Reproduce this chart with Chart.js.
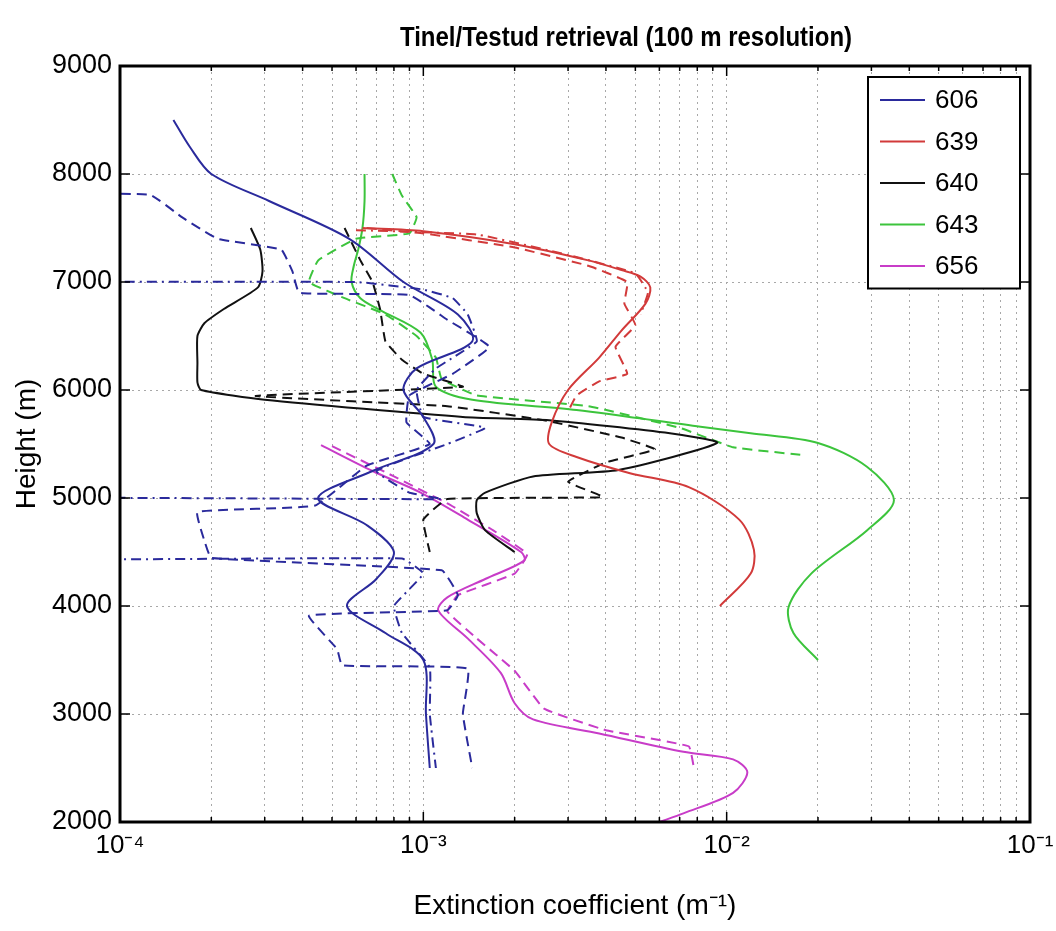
<!DOCTYPE html>
<html>
<head>
<meta charset="utf-8">
<title>Tinel/Testud retrieval</title>
<script src="https://cdn.jsdelivr.net/npm/chart.js@4.4.1/dist/chart.umd.min.js"></script>
<style>
    html, body { margin: 0; padding: 0; background: #fff; }
    #wrap { width: 1056px; height: 931px; position: relative; }
</style>
</head>
<body>
<div id="wrap"><canvas id="extChart"></canvas></div>
<script>
const chartTitle = 'Tinel/Testud retrieval (100 m resolution)';

// Axis ticks
const decadeTicks = [1e-4, 1e-3, 1e-2, 1e-1];
const decadeLabels = ['10\u207B\u2074', '10\u207B\u00B3', '10\u207B\u00B2', '10\u207B\u00B9'];
const heightTicks = [2000, 3000, 4000, 5000, 6000, 7000, 8000, 9000];

// Legend entries (one per case)
const cases = ['606', '639', '640', '643', '656'];
const caseColors = ['#2a2a9c', '#d23a3a', '#111111', '#3cc43c', '#c83cc8'];

// 606
const h606 = [8500, 8250, 8000, 7750, 7400, 7000, 6700, 6450, 6200, 6000, 5750, 5500, 5250, 5000, 4750, 4500, 4250, 4000, 3750, 3500, 3000, 2500];
const e606 = [1.5e-4, 1.7e-4, 2.0e-4, 3.1e-4, 5.7e-4, 8.6e-4, 1.3e-3, 1.45e-3, 9.5e-4, 8.6e-4, 1.0e-3, 1.08e-3, 6.8e-4, 4.5e-4, 6.5e-4, 8.0e-4, 7.0e-4, 5.6e-4, 7.5e-4, 1.0e-3, 1.02e-3, 1.05e-3];
const h606d = [7810, 7810, 7600, 7400, 7300, 7100, 6900, 6880, 6650, 6400, 6150, 5950, 5700, 5500, 5300, 4930, 4870, 4600, 4445, 4330, 4100, 3960, 3910, 3600, 3450, 3420, 3000, 2500];
const e606d = [1e-5, 1.25e-4, 1.6e-4, 2.1e-4, 3.4e-4, 3.7e-4, 3.9e-4, 9.0e-4, 1.2e-3, 1.65e-3, 1.25e-3, 9.0e-4, 8.8e-4, 1.05e-3, 6.5e-4, 4.4e-4, 1.8e-4, 1.9e-4, 2.0e-4, 1.15e-3, 1.3e-3, 1.2e-3, 4.2e-4, 5.2e-4, 5.4e-4, 1.4e-3, 1.35e-3, 1.45e-3];
const h606c = [7000, 7000, 6930, 6850, 6700, 6450, 6200, 6000, 5750, 5650, 5500, 5250, 5050, 4990, 4980, 4450, 4440, 4300, 4000, 3750, 3430, 3000, 2500];
const e606c = [1e-5, 6e-4, 1.0e-3, 1.25e-3, 1.4e-3, 1.5e-3, 1.1e-3, 9.5e-4, 1.0e-3, 1.6e-3, 1.2e-3, 7e-4, 9e-4, 1.15e-3, 1e-5, 1e-5, 8.5e-4, 1.0e-3, 8.0e-4, 8.5e-4, 1.05e-3, 1.05e-3, 1.1e-3];

// 639
const h639 = [7500, 7470, 7350, 7200, 7110, 7050, 6950, 6800, 6550, 6300, 6000, 5700, 5500, 5380, 5230, 5100, 4800, 4520, 4300, 4000];
const e639 = [6.3e-4, 1.0e-3, 2.0e-3, 3.5e-3, 4.5e-3, 5.2e-3, 5.6e-3, 5.4e-3, 4.5e-3, 3.8e-3, 3.0e-3, 2.65e-3, 2.6e-3, 3.2e-3, 4.8e-3, 7.5e-3, 1.1e-2, 1.23e-2, 1.2e-2, 9.5e-3];
const h639d = [7500, 7450, 7320, 7150, 7000, 6800, 6600, 6400, 6150, 6080, 5950, 5800];
const e639d = [6.5e-4, 1.0e-3, 2.0e-3, 3.5e-3, 4.7e-3, 4.6e-3, 5.0e-3, 4.3e-3, 4.7e-3, 3.8e-3, 3.2e-3, 3.0e-3];
const h639c = [7480, 7440, 7250, 7080, 6900, 6700];
const e639c = [6.0e-4, 1.5e-3, 3.0e-3, 5.0e-3, 5.5e-3, 5.2e-3];

// 640
const h640 = [7500, 7300, 7100, 6950, 6750, 6620, 6500, 6250, 6070, 6000, 5910, 5750, 5720, 5600, 5510, 5260, 5200, 5050, 4980, 4860, 4700, 4500];
const e640 = [2.7e-4, 2.9e-4, 2.95e-4, 2.85e-4, 2.2e-4, 1.9e-4, 1.8e-4, 1.8e-4, 1.8e-4, 1.85e-4, 3.0e-4, 1.35e-3, 2.6e-3, 6.5e-3, 9.3e-3, 4.4e-3, 2.3e-3, 1.6e-3, 1.5e-3, 1.5e-3, 1.6e-3, 2.0e-3];
const h640d = [7500, 7200, 7000, 6750, 6450, 6280, 6150, 6030, 5945, 5850, 5720, 5560, 5450, 5330, 5150, 5010, 4990, 4800, 4500];
const e640d = [5.5e-4, 6.2e-4, 6.8e-4, 7.2e-4, 7.5e-4, 8.5e-4, 1.0e-3, 1.35e-3, 2.8e-4, 1.2e-3, 2.5e-3, 4.5e-3, 5.8e-3, 4.0e-3, 3.0e-3, 3.9e-3, 1.2e-3, 1.0e-3, 1.05e-3];

// 643
const h643 = [8000, 7750, 7500, 7300, 7150, 7000, 6850, 6740, 6530, 6280, 6030, 5910, 5815, 5660, 5600, 5510, 5290, 4980, 4700, 4300, 3990, 3750, 3500];
const e643 = [6.4e-4, 6.4e-4, 6.3e-4, 6.1e-4, 5.9e-4, 5.8e-4, 6.2e-4, 7.2e-4, 9.8e-4, 1.07e-3, 1.1e-3, 1.45e-3, 3.2e-3, 8.2e-3, 1.2e-2, 2.0e-2, 2.9e-2, 3.56e-2, 2.9e-2, 1.9e-2, 1.6e-2, 1.66e-2, 2.0e-2];
const h643d = [8000, 7800, 7600, 7450, 7400, 7200, 7000, 6850, 6700, 6500, 6300, 6100, 5950, 5850, 5650, 5470, 5400];
const e643d = [7.9e-4, 8.5e-4, 9.5e-4, 9e-4, 6.0e-4, 4.5e-4, 4.2e-4, 5.5e-4, 7.5e-4, 9.5e-4, 1.1e-3, 1.15e-3, 1.5e-3, 3.5e-3, 7.0e-3, 1.05e-2, 1.75e-2];

// 656
const h656 = [5490, 5250, 5050, 4800, 4500, 4420, 4250, 4080, 3960, 3700, 3380, 3100, 2950, 2820, 2650, 2580, 2460, 2270, 2080, 2000];
const e656 = [4.6e-4, 6.8e-4, 9.8e-4, 1.4e-3, 2.1e-3, 2.15e-3, 1.6e-3, 1.2e-3, 1.12e-3, 1.4e-3, 1.8e-3, 2.0e-3, 2.3e-3, 3.8e-3, 7.2e-3, 1.05e-2, 1.17e-2, 1.05e-2, 7.2e-3, 6.0e-3];
const h656d = [5480, 5200, 4950, 4700, 4480, 4300, 4100, 3950, 3700, 3400, 3050, 2850, 2700, 2500];
const e656d = [5e-4, 8e-4, 1.2e-3, 1.7e-3, 2.2e-3, 2.0e-3, 1.3e-3, 1.2e-3, 1.5e-3, 2.0e-3, 2.5e-3, 4.0e-3, 7.5e-3, 7.8e-3];

const DASH = [10, 6];
const DASHDOT = [10, 5, 2, 5];

function series(label, heights, values, color, dash, tension) {
    return {
        label: label,
        data: heights.map((h, i) => ({ x: values[i], y: h })),
        borderColor: color,
        backgroundColor: color,
        borderDash: dash,
        borderWidth: 2,
        pointRadius: 0,
        showLine: true,
        fill: false,
        tension: tension,
        clip: 0
    };
}

const datasets = [
    series('606', h606, e606, caseColors[0], [], 0.3),
    series('606 b', h606d, e606d, caseColors[0], DASH, 0.1),
    series('606 c', h606c, e606c, caseColors[0], DASHDOT, 0.1),
    series('639', h639, e639, caseColors[1], [], 0.3),
    series('639 b', h639d, e639d, caseColors[1], DASH, 0.1),
    series('639 c', h639c, e639c, caseColors[1], DASHDOT, 0.1),
    series('640', h640, e640, caseColors[2], [], 0.2),
    series('640 b', h640d, e640d, caseColors[2], DASH, 0.1),
    series('643', h643, e643, caseColors[3], [], 0.3),
    series('643 b', h643d, e643d, caseColors[3], DASH, 0.1),
    series('656', h656, e656, caseColors[4], [], 0.3),
    series('656 b', h656d, e656d, caseColors[4], DASH, 0.1)
];

// Minor ticks 2..9 per decade, plus the decades themselves
function logTickValues() {
    const vals = [];
    for (let i = 0; i < decadeTicks.length - 1; i++) {
        for (let m = 1; m < 10; m++) {
            vals.push(decadeTicks[i] * m);
        }
    }
    vals.push(decadeTicks[decadeTicks.length - 1]);
    return vals;
}

function isDecade(v) {
    return decadeTicks.some(d => Math.abs(v / d - 1) < 1e-6);
}

// Narrow bold title, squeezed to the width of the original
const titlePlugin = {
    id: 'titlePlugin',
    afterDraw(chart) {
        const { ctx, chartArea: a } = chart;
        ctx.save();
        ctx.font = 'bold 28px "Liberation Sans", Arial, sans-serif';
        ctx.fillStyle = '#000';
        ctx.textAlign = 'center';
        ctx.textBaseline = 'middle';
        const w = ctx.measureText(chartTitle).width;
        const sx = Math.min(1, 452 / w);
        ctx.translate((a.left + a.right) / 2 + 51, a.top - 28);
        ctx.scale(sx, 1);
        ctx.fillText(chartTitle, 0, 0);
        ctx.restore();
    }
};

// Box round the plot plus inward tick marks, MATLAB style
const boxPlugin = {
    id: 'boxPlugin',
    afterDatasetsDraw(chart) {
        const { ctx, chartArea: a, scales } = chart;
        ctx.save();
        ctx.strokeStyle = '#000';
        ctx.lineWidth = 1.5;
        ctx.beginPath();
        scales.x.ticks.forEach(t => {
            const px = scales.x.getPixelForValue(t.value);
            const len = isDecade(t.value) ? 10 : 5;
            ctx.moveTo(px, a.bottom); ctx.lineTo(px, a.bottom - len);
            ctx.moveTo(px, a.top); ctx.lineTo(px, a.top + len);
        });
        scales.y.ticks.forEach(t => {
            const py = scales.y.getPixelForValue(t.value);
            ctx.moveTo(a.left, py); ctx.lineTo(a.left + 10, py);
            ctx.moveTo(a.right, py); ctx.lineTo(a.right - 10, py);
        });
        ctx.stroke();
        ctx.lineWidth = 3;
        ctx.strokeRect(a.left, a.top, a.right - a.left, a.bottom - a.top);
        ctx.restore();
    }
};

// Legend box inside the upper right corner
const legendPlugin = {
    id: 'legendPlugin',
    afterDraw(chart) {
        const { ctx, chartArea: a } = chart;
        const w = 152, rowH = 41.5;
        const left = a.right - 10 - w, top = a.top + 11;
        const h = rowH * cases.length + 4;
        ctx.save();
        ctx.fillStyle = '#fff';
        ctx.fillRect(left, top, w, h);
        ctx.strokeStyle = '#000';
        ctx.lineWidth = 2;
        ctx.strokeRect(left, top, w, h);
        ctx.font = '26px "Liberation Sans", Arial, sans-serif';
        ctx.textBaseline = 'middle';
        cases.forEach((name, i) => {
            const y = top + 23 + i * rowH;
            ctx.strokeStyle = caseColors[i];
            ctx.lineWidth = 2;
            ctx.beginPath();
            ctx.moveTo(left + 12, y);
            ctx.lineTo(left + 57, y);
            ctx.stroke();
            ctx.fillStyle = '#000';
            ctx.fillText(name, left + 67, y + 1);
        });
        ctx.restore();
    }
};

const gridColor = '#a8a8a8';

new Chart(document.getElementById('extChart'), {
    type: 'scatter',
    data: { datasets: datasets },
    plugins: [titlePlugin, boxPlugin, legendPlugin],
    options: {
        responsive: true,
        maintainAspectRatio: false,
        animation: false,
        layout: { padding: { left: 0, right: 26, top: 66, bottom: 0 } },
        plugins: {
            legend: { display: false },
            tooltip: { enabled: false },
            title: { display: false }
        },
        scales: {
            x: {
                type: 'logarithmic',
                min: 1e-4,
                max: 1e-1,
                afterBuildTicks: (scale) => {
                    scale.ticks = logTickValues().map(v => ({ value: v }));
                },
                afterFit: (scale) => {
                    scale.height = 109;
                    scale.paddingLeft = 0;
                    scale.paddingRight = 0;
                },
                grid: { color: gridColor, lineWidth: 1, drawTicks: false },
                border: { display: false, dash: [2, 4] },
                ticks: {
                    autoSkip: false,
                    maxRotation: 0,
                    padding: 8,
                    color: '#000',
                    font: { family: '"Liberation Sans", Arial, sans-serif', size: 26 },
                    callback: (v) => {
                        const idx = decadeTicks.findIndex(d => Math.abs(v / d - 1) < 1e-6);
                        return idx >= 0 ? decadeLabels[idx] : '';
                    }
                },
                title: {
                    display: true,
                    text: 'Extinction coefficient (m\u207B\u00B9)',
                    color: '#000',
                    font: { family: '"Liberation Sans", Arial, sans-serif', size: 28 },
                    padding: { top: 0, bottom: 8 }
                }
            },
            y: {
                min: 2000,
                max: 9000,
                afterBuildTicks: (scale) => {
                    scale.ticks = heightTicks.map(v => ({ value: v }));
                },
                afterFit: (scale) => {
                    scale.width = 120;
                    scale.paddingTop = 0;
                    scale.paddingBottom = 0;
                },
                grid: { color: gridColor, lineWidth: 1, drawTicks: false },
                border: { display: false, dash: [2, 4] },
                ticks: {
                    padding: 8,
                    color: '#000',
                    font: { family: '"Liberation Sans", Arial, sans-serif', size: 27 },
                    callback: (v) => String(v)
                },
                title: {
                    display: true,
                    text: 'Height (m)',
                    color: '#000',
                    font: { family: '"Liberation Sans", Arial, sans-serif', size: 28 },
                    padding: { top: 10, bottom: 0 }
                }
            }
        }
    }
});
</script>
</body>
</html>
